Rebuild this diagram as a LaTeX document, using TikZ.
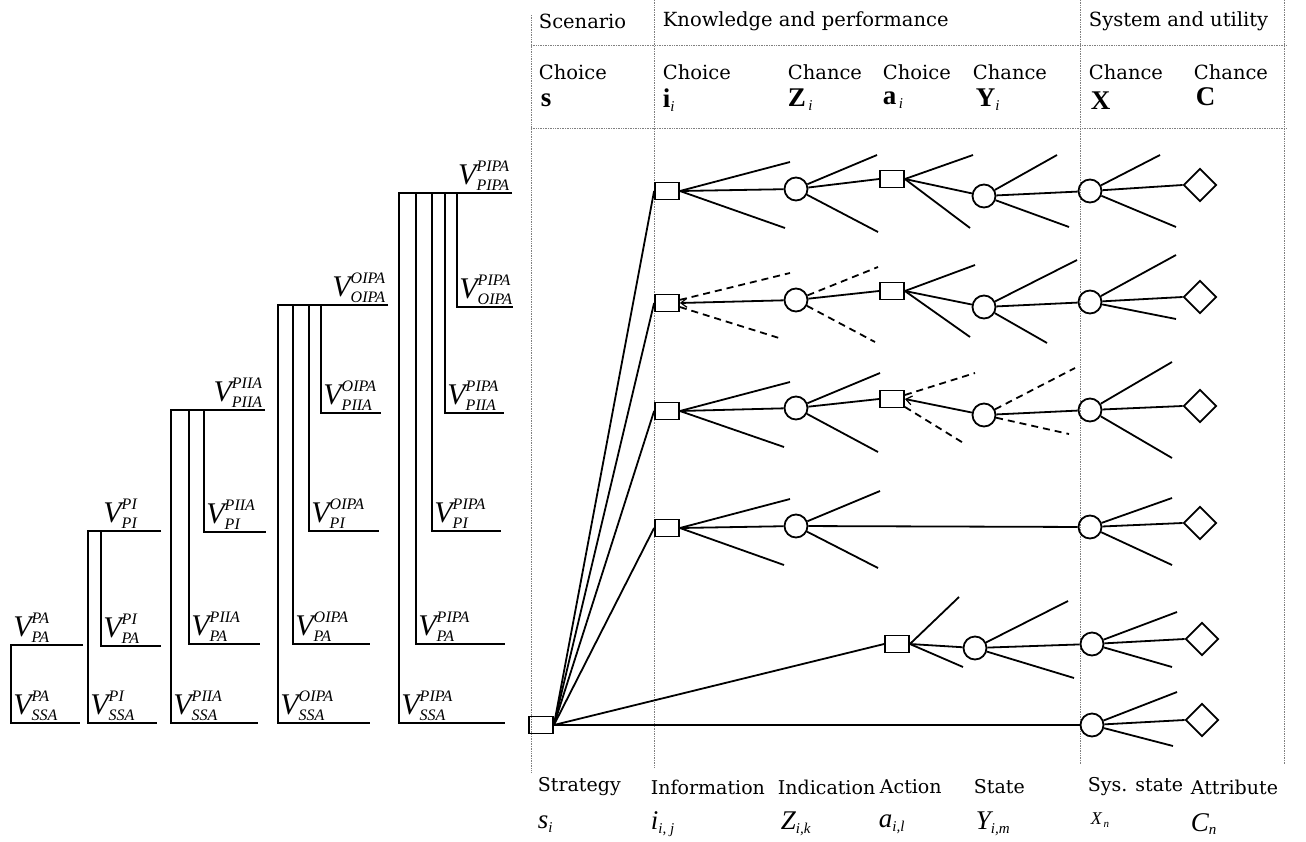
\documentclass[tikz,border=0pt]{standalone}
\usepackage{fontspec}
\usepackage{amsmath}
\setmainfont{DejaVu Serif}
\newfontfamily\tms{Liberation Serif}
\usetikzlibrary{shapes.geometric,arrows.meta}
\DeclareMathSizes{30}{30}{16}{12}
\DeclareMathSizes{27}{27}{15}{11}
\DeclareMathSizes{18}{18}{11}{8}
\newcommand\vlab[2]{$\textit{V}^{\textit{#1}}_{\textit{#2}}$}

\begin{document}
\begin{tikzpicture}[x=1pt,y=-1pt,
   line width=1.8pt,
   choice/.style={draw,rectangle,minimum width=24pt,minimum height=17pt,inner sep=0pt},
   chance/.style={draw,circle,minimum size=23pt,inner sep=0pt},
   util/.style={draw,diamond,minimum size=33pt,inner sep=0pt},
   gridline/.style={gray,densely dotted,line width=0.7pt},
   dashline/.style={dash pattern=on 7pt off 5pt},
   tip/.style={-{Straight Barb[length=6pt,width=9pt,line width=1.2pt]}},
   head/.style={anchor=west,font=\fontsize{19.5}{21}\selectfont,inner sep=0pt},
   foot/.style={head,font=\fontsize{19}{21}\selectfont},
   sym/.style={anchor=west,font=\tms\fontsize{27}{29}\selectfont,inner sep=0pt},
   vl/.style={anchor=south west,font=\tms\fontsize{30}{32}\selectfont,inner sep=1.5pt}]
\useasboundingbox (0,0) rectangle (1306,841);

% table
\draw[gridline] (531,15) -- (531,773) (654,0) -- (654,767)
   (1080,0) -- (1080,764) (1284,0) -- (1284,764)
   (531,45) -- (1287,45) (531,128) -- (1287,128);

\foreach \n/\x/\t in {hs/538/Scenario, hk/662/Knowledge and performance, hu/1088/System and utility}
  \node[head] (\n) at (\x,21) {\t};
\foreach \n/\x/\t in {cs/538/Choice, ci/662/Choice, cz/787/Chance, ca/882/Choice, cy/972/Chance, cx/1088/Chance, cc/1193/Chance}
  \node[head] (\n) at (\x,72) {\t};
\node[sym] (bs) at (540,100) {\textbf{s}};
\node[sym] (bi) at (662,100) {$\textbf{i}_{\textit{i}}$};
\node[sym] (bz) at (787,100) {$\textbf{Z}_{\,\textit{i}}$};
\node[sym] (ba) at (882,100) {$\textbf{a}_{\,\textit{i}}$};
\node[sym] (by) at (975,100) {$\textbf{Y}_{\textit{i}}$};
\node[sym] (bx) at (1090,101) {\textbf{X}};
\node[sym] (bc) at (1195,97) {\textbf{C}};

\foreach \n/\x/\t in {fs/537/Strategy, fi/650/Information, fz/777/Indication, fa/879/Action, fy/973/State, fx/1087/Sys. state, fc/1190/Attribute}
  \node[foot] (\n) at (\x,787) {\t};
\node[sym] (ms) at (537,824) {$\textit{s}_{\textit{i}}$};
\node[sym] (mi) at (650,824) {$\textit{i}_{\textit{i}\textit{, j}}$};
\node[sym] (mz) at (780,824) {$\textit{Z}_{\textit{i,k}}$};
\node[sym] (ma) at (878,824) {$\textit{a}_{\textit{i,l}}$};
\node[sym] (my) at (975,824) {$\textit{Y}_{\textit{i,m}}$};
\node[sym,font=\tms\fontsize{18}{20}\selectfont] (mx) at (1090,820) {$\textit{X}_{\,\textit{n}}$};
\node[sym] (mc) at (1190,824) {$\textit{C}_{\textit{n}}$};

% decision tree
\node[choice] (s) at (541,725) {};
\foreach \r/\y in {1/191,2/303,3/411,4/528}
  \node[choice] (i\r) at (667,\y) {};
\foreach \r/\y in {1/189,2/300,3/408,4/526}
  \node[chance] (z\r) at (796,\y) {};
\foreach \r/\x/\y in {1/892/179,2/892/291,3/892/399,5/897/644}
  \node[choice] (a\r) at (\x,\y) {};
\foreach \r/\x/\y in {1/984/196,2/984/307,3/984/415,5/975/648}
  \node[chance] (y\r) at (\x,\y) {};
\foreach \r/\x/\y in {1/1090/191,2/1090/302,3/1090/410,4/1090/527,5/1092/644,6/1092/725}
  \node[chance] (x\r) at (\x,\y) {};
\foreach \r/\x/\y in {1/1200/185,2/1200/297,3/1200/406,4/1200/523,5/1202/639,6/1202/720}
  \node[util] (c\r) at (\x,\y) {};

\foreach \n in {i1,i2,i3,i4,a5}
  \draw (s.east) -- (\n.west);
\draw (s.east) -- (x6);
\draw (i1.east) -- (z1) -- (a1.west) (a1.east) -- (y1) -- (x1) -- (c1.west);
\draw[tip] (z2) -- (i2.east);
\draw (z2) -- (a2.west) (a2.east) -- (y2) -- (x2) -- (c2.west);
\draw (i3.east) -- (z3) -- (a3.west) (y3) -- (x3) -- (c3.west);
\draw[tip] (y3) -- (a3.east);
\draw (i4.east) -- (z4) -- (x4) -- (c4.west);
\draw (a5.east) -- (y5) -- (x5) -- (c5.west);
\draw (x6) -- (c6.west);

% open branches
\foreach \n/\ux/\uy/\lx/\ly in {i1/790/162/785/228, a1/973/155/970/228, a2/975/265/970/337,
    i3/790/382/784/447, i4/790/499/784/565, a5/959/597/963/667}{
  \coordinate (\n up) at (\ux,\uy);
  \coordinate (\n dn) at (\lx,\ly);
  \draw (\n.east) -- (\n up) (\n.east) -- (\n dn);
}
\foreach \n/\ux/\uy/\lx/\ly in {z1/877/155/878/232, y1/1057/155/1069/227, x1/1160/155/1176/227,
    y2/1077/260/1047/343, x2/1176/255/1176/319, z3/880/373/878/452, x3/1172/362/1172/458,
    z4/880/491/878/568, x4/1172/498/1172/565, y5/1068/601/1074/678, x5/1177/612/1172/667,
    x6/1177/692/1173/746}{
  \coordinate (\n up) at (\ux,\uy);
  \coordinate (\n dn) at (\lx,\ly);
  \draw (\n) -- (\n up) (\n) -- (\n dn);
}
\foreach \n/\ux/\uy/\lx/\ly in {i2/790/273/779/338, z2/878/267/875/342, a3/975/373/965/444, y3/1075/368/1069/434}{
  \coordinate (\n up) at (\ux,\uy);
  \coordinate (\n dn) at (\lx,\ly);
  \draw[dashline] (\n) -- (\n up) (\n) -- (\n dn);
}

% value brackets
\draw (83,645) -- (11,645) -- (11,723) -- (80,723);
\draw (161,531) -- (88,531) -- (88,723) -- (157,723);
\draw (265,410) -- (171,410) -- (171,723) -- (258,723);
\draw (388,305) -- (278,305) -- (278,723) -- (370,723);
\draw (512,193) -- (399,193) -- (399,723) -- (505,723);
\foreach \x/\t/\y/\e in {101/531/646/161, 189/410/644/260, 204/410/532/266,
    293/305/644/370, 309/305/531/379, 321/305/413/381,
    416/193/644/505, 432/193/531/501, 445/193/413/504, 457/193/307/513}
  \draw (\x,\t) |- (\e,\y);

\foreach \x/\y/\hi/\lo in {11/645/PA/PA, 11/723/PA/SSA, 101/531/PI/PI, 101/646/PI/PA, 88/723/PI/SSA,
    204/532/PIIA/PI, 189/644/PIIA/PA, 171/723/PIIA/SSA,
    321/413/OIPA/PIIA, 309/531/OIPA/PI, 293/644/OIPA/PA, 278/723/OIPA/SSA,
    457/307/PIPA/OIPA, 445/413/PIPA/PIIA, 432/531/PIPA/PI, 416/644/PIPA/PA, 399/723/PIPA/SSA}
  \node[vl] (v\hi\lo) at (\x,\y) {\vlab{\hi}{\lo}};
\foreach \x/\y/\t in {265/410/PIIA, 388/305/OIPA, 512/193/PIPA}
  \node[vl,anchor=south east] (v\t\t) at (\x,\y) {\vlab{\t}{\t}};

\end{tikzpicture}
\end{document}
